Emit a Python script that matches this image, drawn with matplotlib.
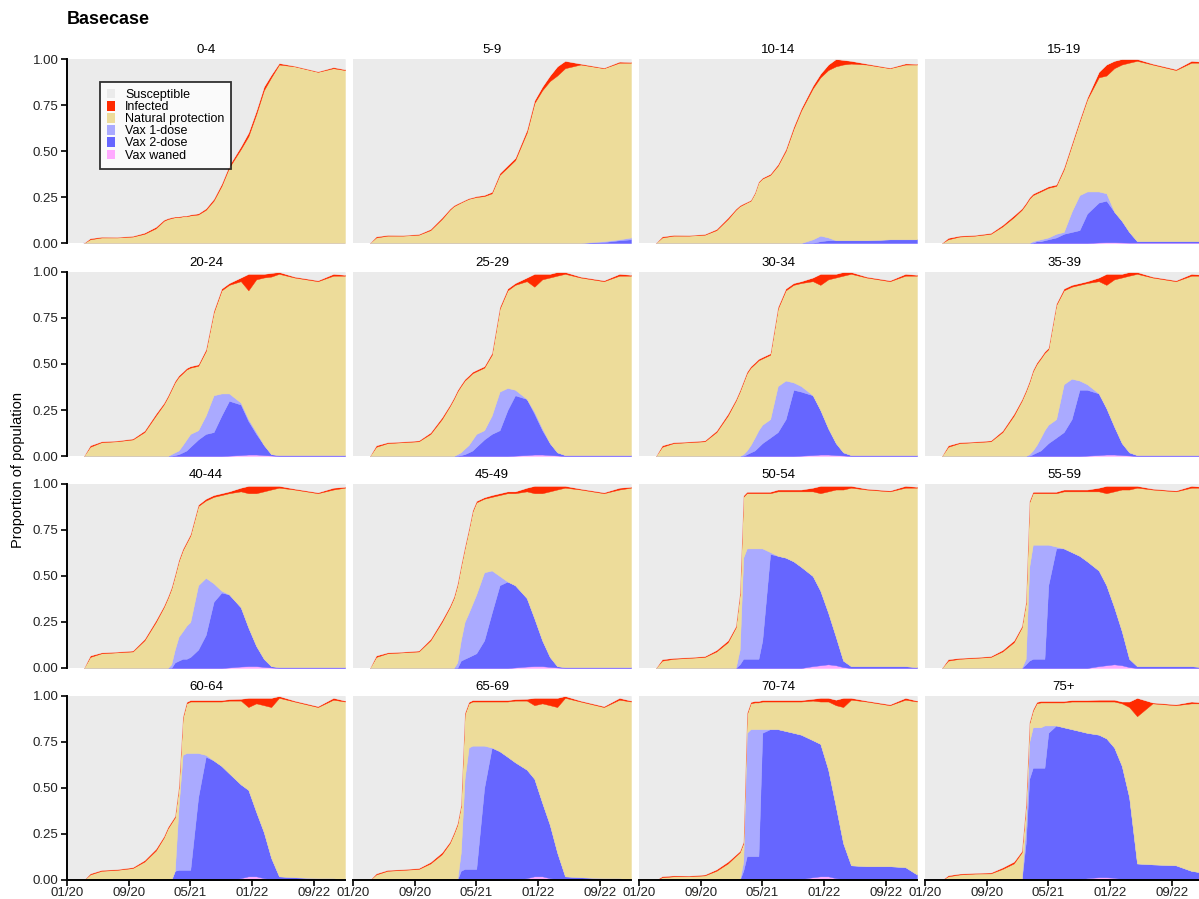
import matplotlib
matplotlib.use("Agg")
import numpy as np
import pandas as pd
import matplotlib.pyplot as plt
import matplotlib.dates as mdates
from matplotlib.patches import Patch

plt.rcParams["font.family"] = ["Liberation Sans", "DejaVu Sans"]

age_groups = ["0-4", "5-9", "10-14", "15-19", "20-24", "25-29", "30-34", "35-39",
              "40-44", "45-49", "50-54", "55-59", "60-64", "65-69", "70-74", "75+"]

dates = pd.to_datetime([
    "2020-03-07", "2020-04-01", "2020-05-16", "2020-07-16", "2020-09-16", "2020-11-01",
    "2020-12-16", "2021-01-16", "2021-02-01", "2021-02-15", "2021-03-01", "2021-03-16",
    "2021-04-01", "2021-04-16", "2021-05-01", "2021-06-01", "2021-07-01", "2021-08-01",
    "2021-09-01", "2021-10-01", "2021-11-16", "2021-12-16", "2022-01-16", "2022-02-15",
    "2022-03-16", "2022-04-16", "2022-06-16", "2022-09-16", "2022-11-16", "2023-01-01"])

# top of the "Natural protection" band (everything protected, stacked from 0)
protected_top = [
    [0, .02, .03, .03, .035, .05, .08, .12, .13, .135, .14, .14, .145, .145, .15, .155, .18, .23, .31, .41, .51, .58, .70, .83, .90, .97, .96, .93, .95, .94],
    [0, .03, .04, .04, .045, .07, .13, .18, .20, .21, .22, .23, .24, .245, .25, .255, .27, .37, .41, .45, .60, .76, .83, .88, .91, .95, .97, .95, .98, .98],
    [0, .03, .04, .04, .045, .07, .13, .18, .20, .21, .22, .23, .27, .33, .35, .37, .42, .50, .62, .72, .84, .90, .94, .96, .97, .975, .97, .95, .97, .97],
    [0, .02, .035, .04, .05, .09, .14, .18, .21, .24, .26, .27, .28, .29, .30, .31, .40, .53, .66, .78, .90, .91, .95, .97, .98, .99, .97, .94, .98, .98],
    [0, .05, .075, .08, .09, .13, .22, .28, .32, .36, .40, .43, .45, .47, .48, .49, .57, .78, .90, .93, .95, .90, .96, .97, .975, .99, .97, .95, .98, .98],
    [0, .05, .07, .075, .08, .12, .20, .27, .31, .35, .38, .41, .43, .45, .46, .48, .55, .80, .90, .93, .95, .92, .96, .97, .98, .99, .97, .95, .98, .98],
    [0, .05, .07, .075, .08, .13, .22, .30, .35, .40, .45, .48, .50, .52, .53, .55, .80, .90, .93, .94, .95, .93, .96, .97, .98, .99, .97, .95, .98, .98],
    [0, .05, .07, .075, .08, .13, .22, .30, .35, .40, .46, .50, .53, .56, .58, .82, .90, .92, .93, .94, .95, .93, .96, .97, .98, .99, .97, .95, .98, .98],
    [0, .06, .08, .085, .09, .15, .25, .33, .38, .43, .50, .58, .64, .68, .72, .88, .91, .93, .94, .95, .96, .95, .95, .96, .97, .98, .97, .95, .97, .98],
    [0, .06, .08, .085, .09, .15, .25, .33, .38, .45, .55, .65, .75, .85, .90, .92, .93, .94, .95, .95, .96, .95, .95, .96, .97, .98, .97, .95, .97, .98],
    [0, .04, .05, .055, .06, .09, .14, .22, .40, .93, .95, .95, .95, .95, .95, .95, .96, .96, .96, .96, .96, .95, .96, .97, .97, .98, .97, .96, .98, .98],
    [0, .04, .05, .055, .06, .09, .14, .22, .35, .90, .95, .95, .95, .95, .95, .95, .96, .96, .96, .96, .96, .95, .96, .97, .97, .98, .97, .96, .98, .98],
    [0, .03, .05, .055, .065, .10, .16, .23, .28, .31, .34, .50, .88, .96, .97, .97, .97, .97, .97, .975, .975, .94, .96, .95, .94, .99, .97, .94, .98, .97],
    [0, .03, .05, .055, .06, .09, .14, .20, .25, .30, .40, .90, .96, .97, .97, .97, .97, .97, .97, .975, .975, .95, .96, .95, .94, .99, .97, .94, .98, .97],
    [0, .015, .02, .02, .025, .05, .09, .13, .15, .20, .90, .96, .965, .965, .97, .97, .97, .97, .97, .97, .975, .97, .97, .95, .94, .98, .97, .95, .98, .97],
    [0, .02, .03, .035, .036, .06, .09, .15, .40, .85, .92, .96, .965, .965, .965, .965, .965, .97, .97, .97, .97, .97, .97, .96, .94, .89, .96, .95, .96, .96],
]

infected = [
    [0, .006, .004, .003, .004, .006, .008, .006, .005, .005, .004, .004, .004, .004, .005, .006, .008, .01, .012, .012, .015, .02, .02, .02, .015, .008, .003, .003, .006, .004],
    [0, .006, .004, .003, .004, .006, .008, .006, .005, .005, .004, .004, .004, .004, .005, .006, .008, .01, .012, .012, .015, .015, .02, .03, .05, .04, .005, .003, .006, .004],
    [0, .006, .004, .003, .004, .006, .008, .006, .005, .005, .004, .004, .004, .004, .005, .006, .008, .01, .012, .012, .015, .02, .03, .04, .025, .015, .005, .003, .006, .004],
    [0, .008, .005, .004, .005, .008, .01, .008, .008, .008, .008, .008, .008, .008, .008, .008, .01, .01, .01, .01, .03, .06, .04, .03, .02, .01, .005, .005, .01, .005],
    [0, .008, .005, .004, .005, .008, .01, .008, .008, .008, .008, .008, .008, .008, .008, .008, .01, .01, .01, .01, .02, .09, .03, .02, .02, .01, .005, .005, .01, .005],
    [0, .008, .005, .004, .005, .008, .01, .008, .008, .008, .008, .008, .008, .008, .008, .008, .01, .01, .01, .01, .02, .07, .03, .02, .02, .01, .005, .005, .01, .005],
    [0, .008, .005, .004, .005, .008, .01, .008, .008, .008, .008, .008, .008, .008, .008, .008, .01, .01, .01, .01, .02, .06, .03, .02, .02, .01, .005, .005, .01, .005],
    [0, .008, .005, .004, .005, .008, .01, .008, .008, .008, .008, .008, .008, .008, .008, .008, .01, .01, .01, .01, .02, .06, .03, .02, .02, .01, .005, .005, .01, .005],
    [0, .008, .005, .004, .005, .008, .01, .008, .008, .008, .008, .008, .008, .008, .008, .008, .01, .01, .01, .01, .02, .04, .04, .03, .02, .01, .005, .005, .01, .005],
    [0, .008, .005, .004, .005, .008, .01, .008, .008, .008, .008, .008, .008, .008, .008, .008, .01, .01, .01, .01, .02, .04, .04, .03, .02, .01, .005, .005, .01, .005],
    [0, .008, .005, .004, .005, .008, .01, .008, .008, .008, .008, .008, .008, .008, .008, .008, .01, .01, .01, .01, .02, .04, .03, .02, .02, .01, .005, .005, .01, .005],
    [0, .008, .005, .004, .005, .008, .01, .008, .008, .008, .008, .008, .008, .008, .008, .008, .01, .01, .01, .01, .02, .04, .03, .02, .02, .01, .005, .005, .01, .005],
    [0, .006, .005, .004, .005, .008, .01, .008, .008, .008, .008, .008, .008, .008, .008, .008, .008, .008, .008, .008, .01, .05, .03, .04, .05, .01, .005, .005, .01, .005],
    [0, .006, .005, .004, .005, .008, .01, .008, .008, .008, .008, .008, .008, .008, .008, .008, .008, .008, .008, .008, .01, .04, .03, .04, .05, .01, .005, .005, .01, .005],
    [0, .006, .005, .004, .005, .008, .01, .008, .008, .008, .008, .008, .008, .008, .008, .008, .008, .008, .008, .008, .01, .02, .02, .03, .05, .01, .005, .005, .01, .005],
    [0, .006, .005, .004, .005, .008, .01, .008, .008, .008, .008, .008, .008, .008, .008, .008, .008, .008, .008, .008, .01, .01, .01, .01, .03, .10, .005, .005, .01, .005],
]

# top of the "Vax 1-dose" band
vax1_top = [
    [0] * 30,
    [0] * 27 + [.01, .02, .03],
    [0] * 20 + [.02, .04, .03, .015, .015, .015, .015, .02, .02, .02],
    [0] * 10 + [.01, .015, .02, .025, .03, .05, .06, .17, .26, .28, .28, .27, .16, .09, .03, .01, .01, .01, .01, .01],
    [0] * 9 + [.01, .02, .03, .06, .09, .12, .14, .22, .33, .34, .34, .29, .20, .13, .06, .01, .005, .005, .005, .005, .005],
    [0] * 9 + [.01, .02, .04, .06, .09, .12, .14, .22, .35, .37, .36, .31, .24, .15, .07, .02, .005, .005, .005, .005, .005],
    [0] * 9 + [.01, .03, .06, .10, .14, .17, .20, .38, .41, .40, .38, .33, .25, .15, .07, .02, .005, .005, .005, .005, .005],
    [0] * 9 + [.01, .03, .06, .10, .14, .17, .20, .39, .42, .41, .39, .34, .26, .16, .07, .02, .005, .005, .005, .005, .005],
    [0] * 9 + [.02, .10, .17, .20, .23, .25, .45, .49, .46, .42, .40, .33, .22, .12, .05, .01, .005, .005, .005, .005, .005],
    [0] * 9 + [.03, .15, .25, .30, .35, .40, .52, .53, .50, .47, .45, .38, .27, .15, .06, .01, .005, .005, .005, .005, .005],
    [0] * 8 + [.10, .60, .65, .65, .65, .65, .65, .63, .61, .60, .58, .55, .50, .42, .30, .17, .04, .01, .01, .01, .01, .005],
    [0] * 8 + [.05, .55, .67, .67, .67, .67, .67, .66, .65, .63, .61, .58, .53, .45, .33, .20, .05, .01, .01, .01, .01, .005],
    [0] * 9 + [0, .05, .40, .68, .69, .69, .69, .68, .65, .62, .58, .52, .49, .37, .26, .12, .02, .015, .01, .01, 0],
    [0] * 9 + [0, .15, .55, .72, .73, .73, .73, .72, .70, .67, .64, .60, .55, .42, .30, .15, .02, .015, .01, .01, 0],
    [0] * 9 + [.10, .80, .82, .82, .82, .82, .82, .82, .81, .80, .79, .76, .74, .60, .40, .20, .08, .075, .075, .07, .03],
    [0] * 8 + [.30, .75, .83, .83, .83, .84, .84, .84, .83, .82, .81, .80, .79, .77, .72, .62, .45, .09, .085, .08, .05, .04],
]

# top of the "Vax 2-dose" band
vax2_top = [
    [0] * 30,
    [0] * 27 + [.005, .015, .02],
    [0] * 21 + [.01, .015, .015, .015, .015, .015, .02, .02, .02],
    [0] * 10 + [0, .01, .01, .015, .02, .03, .05, .06, .07, .16, .22, .23, .17, .12, .06, .01, .01, .01, .01, .01],
    [0] * 10 + [.005, .01, .02, .03, .05, .09, .12, .13, .22, .30, .28, .19, .12, .06, .01, .005, .005, .005, .005, .003],
    [0] * 10 + [.005, .01, .02, .03, .05, .09, .12, .14, .25, .33, .31, .23, .14, .07, .02, .005, .005, .005, .005, .003],
    [0] * 10 + [.01, .02, .03, .05, .07, .10, .13, .20, .36, .35, .33, .25, .15, .07, .02, .005, .005, .005, .005, .003],
    [0] * 10 + [.01, .02, .03, .05, .07, .10, .13, .20, .36, .36, .34, .26, .16, .07, .02, .005, .005, .005, .005, .003],
    [0] * 10 + [.03, .04, .05, .05, .06, .10, .18, .36, .41, .40, .33, .22, .12, .05, .01, .005, .005, .005, .005, .003],
    [0] * 10 + [.04, .05, .06, .07, .08, .15, .30, .45, .47, .45, .38, .27, .15, .06, .01, .005, .005, .005, .005, .003],
    [0] * 8 + [.02, .05, .05, .05, .05, .05, .15, .62, .61, .60, .58, .55, .50, .42, .30, .17, .04, .01, .01, .01, .01, .005],
    [0] * 8 + [.02, .04, .05, .05, .05, .05, .45, .65, .65, .63, .61, .58, .53, .45, .33, .20, .05, .01, .01, .01, .01, .005],
    [0] * 10 + [.05, .055, .055, .055, .055, .45, .67, .65, .62, .58, .52, .49, .37, .26, .12, .02, .015, .01, .01, 0],
    [0] * 10 + [.05, .06, .06, .06, .06, .50, .72, .70, .67, .64, .60, .55, .42, .30, .15, .02, .015, .01, .01, 0],
    [0] * 9 + [.05, .13, .13, .13, .13, .80, .82, .82, .81, .80, .79, .76, .74, .60, .40, .20, .08, .075, .075, .07, .03],
    [0] * 8 + [.20, .55, .61, .61, .61, .61, .80, .84, .83, .82, .81, .80, .79, .77, .72, .62, .45, .09, .085, .08, .05, .04],
]

vax_waned = [
    [0] * 30,
    [0] * 30,
    [0] * 30,
    [0] * 20 + [.003, .004, .004, .003, .002, .002, .002, .002, .002, .002],
    [0] * 19 + [.002, .005, .008, .008, .005, .003, 0, 0, 0, 0, 0],
    [0] * 19 + [.002, .005, .008, .008, .005, .003, 0, 0, 0, 0, 0],
    [0] * 19 + [.002, .005, .008, .008, .005, .003, 0, 0, 0, 0, 0],
    [0] * 19 + [.002, .005, .008, .008, .005, .003, 0, 0, 0, 0, 0],
    [0] * 19 + [.003, .008, .01, .01, .006, .003, 0, 0, 0, 0, 0],
    [0] * 19 + [.003, .008, .01, .01, .006, .003, 0, 0, 0, 0, 0],
    [0] * 20 + [.01, .015, .02, .015, .005, 0, 0, 0, 0, 0],
    [0] * 20 + [.01, .015, .02, .015, .005, 0, 0, 0, 0, 0],
    [0] * 20 + [.01, .02, .02, .01, .005, 0, 0, 0, 0, 0],
    [0] * 20 + [.01, .02, .02, .01, .005, 0, 0, 0, 0, 0],
    [0] * 19 + [.005, .015, .02, .02, .01, .005, 0, 0, 0, 0, 0],
    [0] * 19 + [.01, .015, .015, .012, .005, .002, 0, 0, 0, 0, 0],
]

labels = ["Susceptible", "Infected", "Natural protection", "Vax 1-dose", "Vax 2-dose", "Vax waned"]
colors = ["#EBEBEB", "#FF2A00", "#EDDC9A", "#AAAAFF", "#6666FF", "#FFAAFF"]

W, H = 1199, 899
col_left = [67, 353, 639, 925]
row_top = [59, 272, 484, 696]
pw, ph = 278, 184

fig = plt.figure(figsize=(W / 100, H / 100), dpi=100)

for k, grp in enumerate(age_groups):
    r, c = divmod(k, 4)
    ax = fig.add_axes([col_left[c] / W, 1 - (row_top[r] + ph) / H, pw / W, ph / H])
    ax.set_facecolor(colors[0])

    # cumulative band edges, bottom to top
    l0 = np.array(vax_waned[k], float)
    l1 = np.maximum(np.array(vax2_top[k], float), l0)
    l2 = np.maximum(np.array(vax1_top[k], float), l1)
    l3 = np.maximum(np.array(protected_top[k], float), l2)
    l4 = np.minimum(l3 + np.array(infected[k], float), 1.0)
    bands = [(np.zeros_like(l0), l0, colors[5]), (l0, l1, colors[4]), (l1, l2, colors[3]),
             (l2, l3, colors[2]), (l3, l4, colors[1]), (l4, np.ones_like(l0), colors[0])]
    for lo, hi, col in bands:
        ax.fill_between(dates, lo, hi, facecolor=col, edgecolor=col, linewidth=0.3)

    ax.set_xlim(pd.Timestamp("2020-01-01"), pd.Timestamp("2023-01-01"))
    ax.set_ylim(0, 1)
    ax.set_title(grp, fontsize=9.5, pad=4)
    for s in ax.spines.values():
        s.set_visible(False)

    if c == 0:
        ax.spines["left"].set_visible(True)
        ax.spines["left"].set_linewidth(1.4)
        ax.set_yticks([0, 0.25, 0.5, 0.75, 1.0])
        ax.set_yticklabels(["0.00", "0.25", "0.50", "0.75", "1.00"], fontsize=9.5, color="#222222")
        ax.tick_params(axis="y", length=4, width=1.2, pad=2)
    else:
        ax.set_yticks([])

    if r == 3:
        ax.spines["bottom"].set_visible(True)
        ax.spines["bottom"].set_linewidth(1.4)
        ticks = pd.to_datetime(["2020-01-01", "2020-09-01", "2021-05-01", "2022-01-01", "2022-09-01"])
        ax.set_xticks(ticks)
        ax.xaxis.set_major_formatter(mdates.DateFormatter("%m/%y"))
        ax.tick_params(axis="x", length=4, width=1.2, pad=1, labelsize=9.5, labelcolor="#222222")
    else:
        ax.set_xticks([])

    if k == 0:
        handles = [Patch(facecolor=col, edgecolor="none") for col in colors]
        leg = ax.legend(handles, labels, loc="upper left", bbox_to_anchor=(0.119, 0.875),
                        fontsize=9, frameon=True, fancybox=False, handlelength=0.65,
                        handleheight=0.8, handletextpad=0.8, labelspacing=0.0,
                        borderpad=0.55, borderaxespad=0)
        leg.get_frame().set_edgecolor("black")
        leg.get_frame().set_linewidth(1.3)

fig.text(67 / W, 1 - 20 / H, "Basecase", fontsize=13, fontweight="bold", va="center", ha="left")
fig.text(18 / W, 1 - 470 / H, "Proportion of population", rotation=90, fontsize=10.5,
         va="center", ha="center")

fig.savefig("out.png", dpi=100)
